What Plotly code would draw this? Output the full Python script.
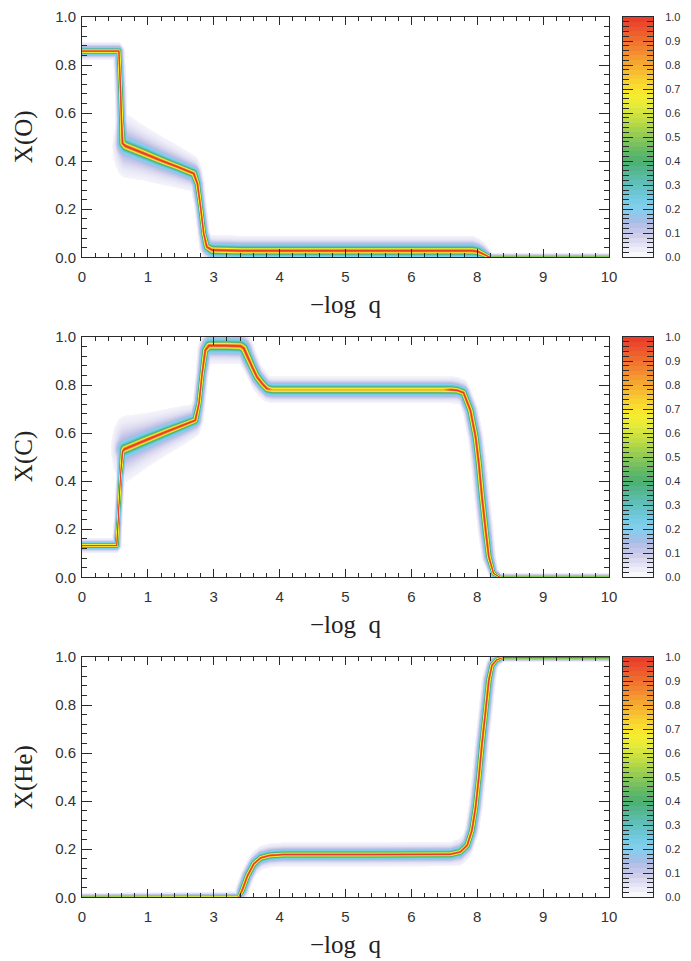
import numpy as np
import plotly.graph_objects as go

# ---------------- data ----------------
# -log q tick positions and their printed labels
x_tickvals = [0, 1.25, 2.5, 3.75, 5, 6.25, 7.5, 8.75, 10]
x_ticktext = ["0", "1", "3", "4", "5", "6", "8", "9", "10"]
y_tickvals = [0, 0.2, 0.4, 0.6, 0.8, 1.0]
y_ticktext = ["0.0", "0.2", "0.4", "0.6", "0.8", "1.0"]
cb_tickvals = [round(0.1 * i, 1) for i in range(11)]
cb_ticktext = ["%.1f" % v for v in cb_tickvals]
cb_levels = [0.01 + 0.02 * i for i in range(50)]

# X(O): centre line, peak density, band / halo spread (px)
o_x = [0.0, 0.69, 0.72, 0.74, 0.76, 0.82, 1.15, 1.48, 1.80, 2.11, 2.18, 2.24, 2.30, 2.36, 2.46, 3.0, 5.0, 7.40, 7.50, 7.60, 7.70, 7.76, 8.5, 10.0]
o_y = [0.86, 0.86, 0.71, 0.57, 0.475, 0.464, 0.435, 0.405, 0.378, 0.350, 0.308, 0.211, 0.100, 0.044, 0.031, 0.028, 0.028, 0.028, 0.025, 0.015, 0.004, 0.0, 0.0, 0.0]
o_amp = [1.0] * 24
o_core = [3.5, 3.5, 3.5, 3.5, 4.5, 6, 6, 5.5, 5, 5, 4, 3.5, 3.5, 4.5, 5.5, 5.5, 5.5, 5.5, 5, 4, 3, 2, 2, 2]
o_halo = [6, 6, 6, 7, 14, 21, 18, 16, 14, 12, 9, 8, 8, 9, 10, 10, 10, 10, 9, 8, 5, 3, 3, 3]

# X(C)
c_x = [0.0, 0.65, 0.68, 0.72, 0.76, 0.80, 1.20, 1.60, 1.90, 2.14, 2.21, 2.27, 2.33, 2.40, 2.70, 3.00, 3.06, 3.12, 3.22, 3.31, 3.41, 3.50, 3.60, 5.00, 6.85, 7.00, 7.11, 7.23, 7.36, 7.46, 7.52, 7.58, 7.65, 7.71, 7.80, 7.93, 10.0]
c_y = [0.133, 0.133, 0.25, 0.42, 0.525, 0.535, 0.572, 0.608, 0.634, 0.655, 0.725, 0.850, 0.947, 0.966, 0.966, 0.964, 0.955, 0.926, 0.877, 0.836, 0.808, 0.787, 0.782, 0.782, 0.782, 0.782, 0.780, 0.770, 0.697, 0.585, 0.475, 0.336, 0.197, 0.086, 0.017, 0.0, 0.0]
c_amp = [1.0] * 22 + [0.8, 0.8, 0.8, 1.0] + [1.0] * 11
c_core = [3, 3, 2.5, 2.5, 3.5, 6, 6, 5.5, 5, 4.5, 3.5, 3.5, 4.5, 6, 6, 6, 6, 5.5, 5, 5, 5, 5, 6, 6, 6, 5, 4.5, 4.5, 4.5, 4.5, 4.5, 4.5, 4.5, 4, 3, 2, 2]
c_halo = [5, 5, 5, 6, 12, 22, 18, 15, 13, 11, 9, 9, 10, 12, 12, 12, 12, 11, 10, 10, 10, 9, 9, 9, 9, 9, 9, 9, 9, 9, 9, 9, 9, 9, 6, 3, 3]

# X(He)
he_x = [0.0, 2.96, 3.03, 3.13, 3.25, 3.38, 3.55, 3.80, 5.50, 6.98, 7.17, 7.30, 7.39, 7.46, 7.52, 7.58, 7.65, 7.71, 7.77, 7.86, 7.99, 10.0]
he_y = [0.0, 0.0, 0.03, 0.09, 0.14, 0.165, 0.175, 0.179, 0.179, 0.180, 0.190, 0.218, 0.280, 0.378, 0.500, 0.640, 0.780, 0.905, 0.968, 0.990, 1.0, 1.0]
he_amp = [1.0] * 22
he_core = [2, 2.5, 4, 4, 4, 4, 4, 4, 4, 4, 4, 4, 4, 4, 4, 4, 4, 4, 3.5, 3, 2, 2]
he_halo = [3, 4, 8, 8, 8, 8, 8, 8, 8, 8, 9, 9, 9, 9, 9, 9, 9, 9, 8, 5, 3, 3]

# ---------------- style ----------------
W, H = 691, 961
PLOT_L, PLOT_R = 82, 609
CB_L, CB_R = 623, 653
PANEL_TOP = [17, 337, 657]
PANEL_H = 240.3
PX_X = (PLOT_R - PLOT_L) / 10.0
PX_Y = PANEL_H
NX, NY = 528, 241
LINE = "#2a2a2a"

colorscale = [
    [0.00, "#ffffff"], [0.02, "#f3f2fa"], [0.06, "#e0dff2"], [0.10, "#c8c8e8"],
    [0.15, "#a9bce6"], [0.20, "#82d0f0"], [0.26, "#6ec8dc"], [0.32, "#5cbcae"],
    [0.40, "#4cb070"], [0.47, "#78c060"], [0.55, "#b2d848"], [0.63, "#e6ea3a"],
    [0.68, "#f8ec2c"], [0.75, "#f8c830"], [0.82, "#f5a030"], [0.90, "#f07030"],
    [1.00, "#e8382a"],
]


def density(xs, ys, amp, core, halo):
    px = np.asarray(xs, float) * PX_X
    py = np.asarray(ys, float) * PX_Y
    seg = np.hypot(np.diff(px), np.diff(py))
    s = np.concatenate([[0.0], np.cumsum(seg)])
    ss = np.linspace(0.0, s[-1], int(s[-1] / 0.4) + 2)
    qx = np.interp(ss, s, px)
    qy = np.interp(ss, s, py)
    qa = np.interp(ss, s, amp)
    qc = np.interp(ss, s, core)
    qh = np.interp(ss, s, halo)
    gx = np.linspace(0, 10, NX) * PX_X
    gy = np.linspace(0, 1, NY) * PX_Y
    Z = np.zeros((NY, NX))
    win = 2.5 * max(max(halo), max(core)) + 2
    for i, X in enumerate(gx):
        m = np.abs(qx - X) < win
        if not m.any():
            continue
        dx2 = (qx[m] - X)[None, :] ** 2
        dy2 = (gy[:, None] - qy[m][None, :]) ** 2
        d2 = dx2 + dy2
        dh2 = 6.0 * dx2 + dy2
        c = qc[m]
        k = qa[m] * (0.55 * np.exp(-d2 / (0.42 * c) ** 2)
                     + 0.30 * np.exp(-d2 / c ** 2)
                     + 0.15 * np.exp(-dh2 / qh[m] ** 2))
        Z[:, i] = k.max(axis=1)
    Z[Z < 0.015] = np.nan
    return np.linspace(0, 10, NX), np.linspace(0, 1, NY), Z.astype(np.float32)


panels = [
    ("X(O)", o_x, o_y, o_amp, o_core, o_halo),
    ("X(C)", c_x, c_y, c_amp, c_core, c_halo),
    ("X(He)", he_x, he_y, he_amp, he_core, he_halo),
]

fig = go.Figure()
annotations = []
layout_axes = {}
tickfont = dict(family="Liberation Sans, Arial", size=15, color="#333")

for p, (label, xs, ys, amp, core, halo) in enumerate(panels):
    gx, gy, Z = density(xs, ys, amp, core, halo)
    n = 2 * p + 1
    xa, ya = (f"x{n}", f"y{n}") if n > 1 else ("x", "y")
    cxa, cya = f"x{n + 1}", f"y{n + 1}"
    top = PANEL_TOP[p]
    ydom = [1 - (top + PANEL_H) / H, 1 - top / H]

    fig.add_trace(go.Heatmap(x=gx, y=gy, z=Z, colorscale=colorscale, zmin=0, zmax=1,
                             showscale=False, hoverinfo="skip", xaxis=xa, yaxis=ya))
    fig.add_trace(go.Heatmap(x=[0], y=cb_levels, z=[[v] for v in cb_levels],
                             colorscale=colorscale, zmin=0, zmax=1, showscale=False,
                             hoverinfo="skip", xaxis=cxa, yaxis=cya))

    xkey = "xaxis" if n == 1 else f"xaxis{n}"
    ykey = "yaxis" if n == 1 else f"yaxis{n}"
    layout_axes[xkey] = dict(
        domain=[PLOT_L / W, PLOT_R / W], anchor=ya, range=[0, 10], automargin=False,
        tickmode="array", tickvals=x_tickvals, ticktext=x_ticktext,
        ticks="inside", ticklen=8, tickwidth=1, tickcolor=LINE,
        minor=dict(ticks="inside", ticklen=4, tickwidth=1, tickcolor=LINE, tick0=0, dtick=0.25),
        showline=True, linecolor=LINE, linewidth=1, mirror="allticks",
        showgrid=False, zeroline=False, tickfont=tickfont, ticklabelstandoff=6,
    )
    layout_axes[ykey] = dict(
        domain=ydom, anchor=xa, range=[0, 1], automargin=False,
        tickmode="array", tickvals=y_tickvals, ticktext=y_ticktext,
        ticks="inside", ticklen=10, tickwidth=1, tickcolor=LINE,
        minor=dict(ticks="inside", ticklen=5, tickwidth=1, tickcolor=LINE, tick0=0, dtick=0.04),
        showline=True, linecolor=LINE, linewidth=1, mirror="allticks",
        showgrid=False, zeroline=False, tickfont=tickfont, ticklabelstandoff=2,
    )
    layout_axes[f"xaxis{n + 1}"] = dict(
        domain=[CB_L / W, CB_R / W], anchor=cya, range=[-0.5, 0.5], automargin=False,
        showticklabels=False, ticks="", showline=True, linecolor=LINE, linewidth=1,
        mirror=True, showgrid=False, zeroline=False,
    )
    layout_axes[f"yaxis{n + 1}"] = dict(
        domain=ydom, anchor=cxa, range=[0, 1], side="right", automargin=False,
        tickmode="array", tickvals=cb_tickvals, ticktext=cb_ticktext,
        ticks="inside", ticklen=10, tickwidth=1, tickcolor=LINE,
        minor=dict(ticks="inside", ticklen=6, tickwidth=1, tickcolor=LINE, tick0=0, dtick=0.02),
        showline=True, linecolor=LINE, linewidth=1, mirror="allticks",
        showgrid=False, zeroline=False,
        tickfont=dict(family="Liberation Sans, Arial", size=11, color="#333"),
        ticklabelstandoff=9,
    )

    annotations.append(dict(
        text="\u2212log\u00a0\u00a0q", xref="paper", yref="paper",
        x=(PLOT_L + PLOT_R) / 2 / W, y=1 - (top + 287) / H,
        showarrow=False, xanchor="center", yanchor="middle",
        font=dict(family="Liberation Serif, Times New Roman", size=25, color="#222"),
    ))
    annotations.append(dict(
        text=label, xref="paper", yref="paper",
        x=24 / W, y=1 - (top + PANEL_H / 2) / H, textangle=-90,
        showarrow=False, xanchor="center", yanchor="middle",
        font=dict(family="Liberation Serif, Times New Roman", size=25, color="#222"),
    ))

fig.update_layout(
    width=W, height=H, margin=dict(l=0, r=0, t=0, b=0, pad=0, autoexpand=False),
    paper_bgcolor="white", plot_bgcolor="white", showlegend=False,
    annotations=annotations, **layout_axes,
)

fig.write_html("out.html", config={"displayModeBar": False, "staticPlot": True},
               post_script="document.body.style.margin='0px';")
